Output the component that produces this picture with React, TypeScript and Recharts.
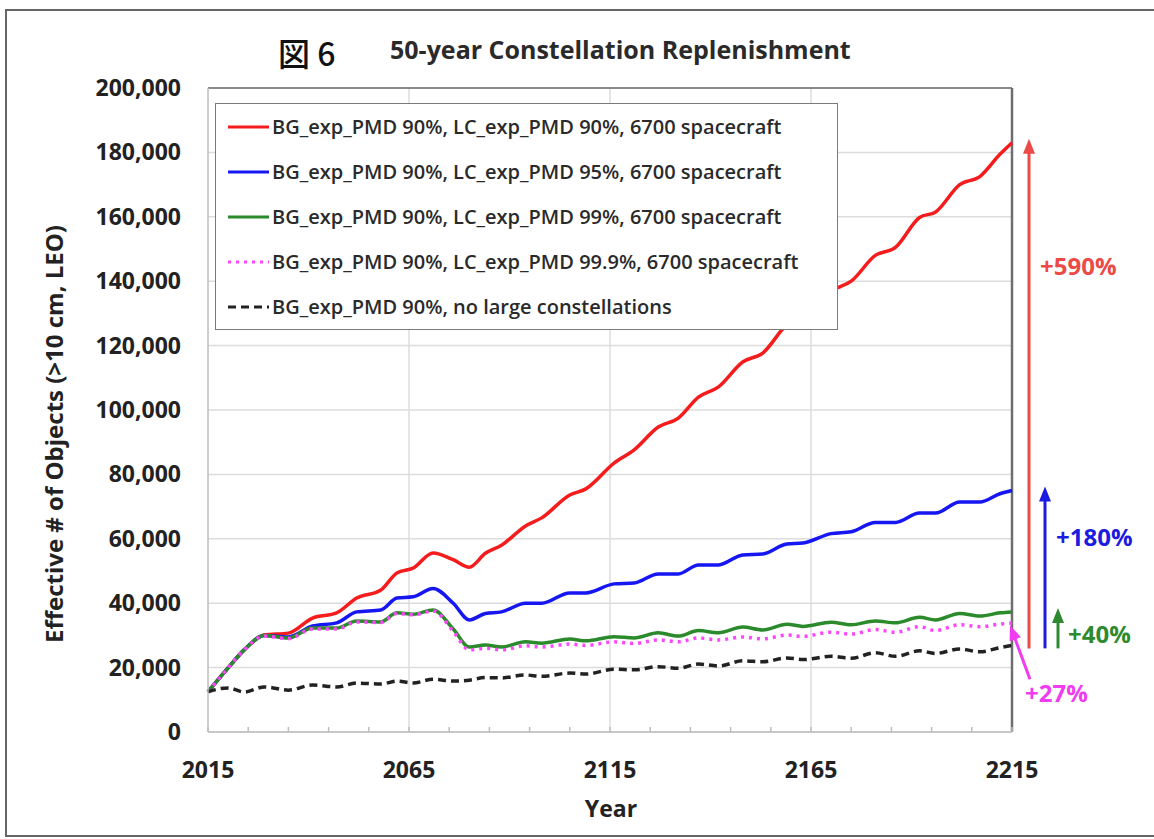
import { LineChart, Line, XAxis, YAxis, CartesianGrid, ReferenceLine } from "recharts";

// sample years (one point at each start / end of the solar-cycle plateaus)
const years = [
  2015, 2020, 2024, 2029, 2035, 2041, 2047, 2052, 2058, 2062,
  2066, 2071, 2076, 2080, 2084, 2088, 2094, 2098, 2105, 2109,
  2116, 2121, 2127, 2132, 2137, 2142, 2148, 2153, 2159, 2163,
  2170, 2175, 2181, 2186, 2192, 2196, 2202, 2207, 2212, 2215,
];

const lc90 = [
  12500, 19900, 25500, 30100, 30700, 35400, 37000, 41600, 44100, 49400,
  50900, 55600, 53500, 51200, 55500, 58000, 64000, 66500, 73600, 75500,
  83500, 87600, 94700, 97500, 104000, 107200, 114900, 117700, 126500, 129500,
  137000, 140000, 148000, 150500, 159800, 161500, 170000, 172500, 179400, 183000,
];
const lc95 = [
  12500, 19900, 25500, 30000, 29500, 32900, 33900, 37300, 37900, 41600,
  42000, 44600, 40000, 34800, 36800, 37300, 40000, 40000, 43200, 43200,
  46000, 46300, 49100, 49100, 51900, 51900, 55000, 55300, 58400, 58700,
  61600, 62200, 65100, 65100, 68000, 68000, 71400, 71400, 74000, 75000,
];
const lc99 = [
  12500, 19900, 25500, 30000, 29200, 32300, 32300, 34500, 34200, 37000,
  36600, 37900, 32000, 26400, 27000, 26400, 28000, 27600, 28900, 28300,
  29600, 29200, 30800, 29800, 31500, 30800, 32600, 31700, 33500, 32800,
  34100, 33300, 34500, 33900, 35600, 34800, 36800, 36000, 37000, 37300,
];
const lc999 = [
  12500, 19900, 25500, 29800, 29000, 32000, 32000, 34200, 34000, 36800,
  36400, 37600, 31300, 25500, 26000, 25500, 26800, 26400, 27300, 26900,
  28000, 27500, 28600, 28000, 29200, 28600, 29500, 28900, 30100, 29700,
  31000, 30400, 31800, 31000, 32700, 31500, 33300, 32700, 33500, 33800,
];
const noLc = [
  12500, 13700, 12400, 14000, 13000, 14600, 14000, 15200, 14900, 15800,
  15200, 16400, 15800, 16100, 16900, 16800, 17700, 17300, 18300, 18000,
  19500, 19300, 20300, 19800, 21100, 20500, 22100, 21800, 23000, 22500,
  23500, 22900, 24600, 23500, 25200, 24400, 25800, 24900, 26200, 26900,
];

const seriesKeys = ["lc90", "lc95", "lc99", "lc999", "noLc"];
const seriesNames = [
  "BG_exp_PMD 90%, LC_exp_PMD 90%, 6700 spacecraft",
  "BG_exp_PMD 90%, LC_exp_PMD 95%, 6700 spacecraft",
  "BG_exp_PMD 90%, LC_exp_PMD 99%, 6700 spacecraft",
  "BG_exp_PMD 90%, LC_exp_PMD 99.9%, 6700 spacecraft",
  "BG_exp_PMD 90%, no large constellations",
];
const seriesColors = ["#f41c1c", "#1616f2", "#2b8a2b", "#ff44ff", "#222222"];
const seriesDash = ["", "", "", "3 5", "8 5"];

const yTicks = [0, 20000, 40000, 60000, 80000, 100000, 120000, 140000, 160000, 180000, 200000];
const xTicks = [2015, 2025, 2035, 2045, 2055, 2065, 2075, 2085, 2095, 2105, 2115, 2125, 2135, 2145, 2155, 2165, 2175, 2185, 2195, 2205, 2215];
const xLabels = [2015, 2065, 2115, 2165, 2215];
const xGrid = [2065, 2115, 2165];

const increaseLabels = ["+590%", "+180%", "+40%", "+27%"];

const data = years.map((year, i) => ({
  year,
  lc90: lc90[i],
  lc95: lc95[i],
  lc99: lc99[i],
  lc999: lc999[i],
  noLc: noLc[i],
}));

const FONT = "'Open Sans', sans-serif";
const last = (a: number[]) => a[a.length - 1];

function XTick({ x, y, payload }: any) {
  const v = payload.value;
  return (
    <g>
      <line x1={x} y1={y} x2={x} y2={y - 5} stroke="#bdbdbd" strokeWidth={1.5} />
      {xLabels.includes(v) && (
        <text x={x} y={y + 46} textAnchor="middle" fontFamily={FONT} fontWeight={700} fontSize={23} fill="#222">
          {v}
        </text>
      )}
    </g>
  );
}

function YTick({ x, y, payload }: any) {
  return (
    <text x={x - 27} y={y + 8} textAnchor="end" fontFamily={FONT} fontWeight={700} fontSize={23} fill="#222">
      {payload.value.toLocaleString("en-US")}
    </text>
  );
}

// arrow from (ax,ay) to tip (bx,by)
function Arrow({ ax, ay, bx, by, color }: any) {
  const len = Math.hypot(bx - ax, by - ay);
  const ux = (bx - ax) / len;
  const uy = (by - ay) / len;
  const head = 15;
  const half = 6;
  const cx = bx - ux * head;
  const cy = by - uy * head;
  return (
    <g>
      <line x1={ax} y1={ay} x2={cx + ux * 2} y2={cy + uy * 2} stroke={color} strokeWidth={3} />
      <polygon
        points={`${bx},${by} ${cx - uy * half},${cy + ux * half} ${cx + uy * half},${cy - ux * half}`}
        fill={color}
      />
    </g>
  );
}

function UpArrow(props: any) {
  const { x1, y1, y2, dx, color, label, labelDx, labelDy } = props;
  const x = x1 + dx;
  return (
    <g>
      <Arrow ax={x} ay={y1 + 3} bx={x} by={y2 - 4} color={color} />
      <text x={x1 + labelDx} y={y2 + labelDy} fill={color} fontFamily={FONT} fontWeight={700} fontSize={24}>
        {label}
      </text>
    </g>
  );
}

function DiagArrow(props: any) {
  const { x1, y1, color, label } = props;
  return (
    <g>
      <Arrow ax={x1 + 18} ay={y1 + 56} bx={x1 - 2} by={y1 + 2} color={color} />
      <text x={x1 + 13} y={y1 + 79} fill={color} fontFamily={FONT} fontWeight={700} fontSize={24}>
        {label}
      </text>
    </g>
  );
}

function LegendBox() {
  return (
    <div
      style={{
        position: "absolute",
        left: 215,
        top: 103,
        width: 623,
        height: 227,
        border: "1.5px solid #7a7a7a",
        background: "#fff",
        boxSizing: "border-box",
      }}
    >
      {seriesNames.map((name, i) => (
        <div key={name} style={{ height: 45, display: "flex", alignItems: "center" }}>
          <svg width={56} height={10} style={{ flex: "none" }}>
            <line
              x1={12}
              y1={5}
              x2={53}
              y2={5}
              stroke={seriesColors[i]}
              strokeWidth={3}
              strokeDasharray={seriesDash[i] || undefined}
            />
          </svg>
          <span style={{ fontFamily: FONT, fontWeight: 600, fontSize: 20, color: "#2a2a2a", whiteSpace: "nowrap" }}>
            {name}
          </span>
        </div>
      ))}
    </div>
  );
}

export default function App() {
  const base = last(noLc);
  return (
    <div style={{ position: "absolute", left: 0, top: 0, width: 1154, height: 839, background: "#fff", overflow: "hidden" }}>
      <div
        style={{
          position: "absolute",
          left: 5,
          top: 9,
          width: 1160,
          height: 828,
          border: "2px solid #666",
          boxSizing: "border-box",
        }}
      />
      <div
        style={{
          position: "absolute",
          left: 278,
          top: 33,
          fontFamily: "'Noto Sans CJK JP', sans-serif",
          fontWeight: 500,
          fontSize: 32,
          lineHeight: "38px",
          color: "#111",
        }}
      >
        図 6
      </div>
      <div
        style={{
          position: "absolute",
          left: 390,
          top: 33,
          fontFamily: FONT,
          fontWeight: 700,
          fontSize: 25,
          lineHeight: "32px",
          color: "#2a2a2a",
        }}
      >
        50-year Constellation Replenishment
      </div>
      <div style={{ position: "absolute", left: 0, top: 0 }}>
        <LineChart width={1154} height={839} data={data} margin={{ top: 88, right: 142, bottom: 0, left: 0 }}>
          <CartesianGrid vertical={false} stroke="#dcdcdc" strokeWidth={1.5} />
          {xGrid.map((g) => (
            <ReferenceLine key={g} x={g} stroke="#dcdcdc" strokeWidth={1.5} />
          ))}
          <XAxis
            type="number"
            dataKey="year"
            domain={[2015, 2215]}
            ticks={xTicks}
            interval={0}
            height={107}
            tickSize={0}
            tickMargin={0}
            axisLine={{ stroke: "#bdbdbd", strokeWidth: 1.5 }}
            tickLine={false}
            tick={<XTick />}
          />
          <YAxis
            domain={[0, 200000]}
            ticks={yTicks}
            interval={0}
            width={208}
            tickSize={0}
            tickMargin={0}
            axisLine={{ stroke: "#bdbdbd", strokeWidth: 1.5 }}
            tickLine={false}
            tick={<YTick />}
          />
          <ReferenceLine y={200000} stroke="#8a8a8a" strokeWidth={2} />
          <ReferenceLine x={2215} stroke="#6e6e6e" strokeWidth={2.5} />
          {seriesKeys.map((k, i) => (
            <Line
              key={k}
              type="monotone"
              dataKey={k}
              name={seriesNames[i]}
              stroke={seriesColors[i]}
              strokeWidth={3.5}
              strokeDasharray={seriesDash[i] || undefined}
              dot={false}
              isAnimationActive={false}
            />
          ))}
          <ReferenceLine
            ifOverflow="visible"
            segment={[{ x: 2215, y: base }, { x: 2215, y: last(lc90) }]}
            shape={(p: any) => (
              <UpArrow {...p} dx={17} color="#eb4a46" label={increaseLabels[0]} labelDx={28} labelDy={132} />
            )}
          />
          <ReferenceLine
            ifOverflow="visible"
            segment={[{ x: 2215, y: base }, { x: 2215, y: last(lc95) }]}
            shape={(p: any) => (
              <UpArrow {...p} dx={33} color="#1c1ce0" label={increaseLabels[1]} labelDx={44} labelDy={55} />
            )}
          />
          <ReferenceLine
            ifOverflow="visible"
            segment={[{ x: 2215, y: base }, { x: 2215, y: last(lc99) }]}
            shape={(p: any) => (
              <UpArrow {...p} dx={46} color="#2e8a2e" label={increaseLabels[2]} labelDx={56} labelDy={31} />
            )}
          />
          <ReferenceLine
            ifOverflow="visible"
            segment={[{ x: 2215, y: last(lc999) }, { x: 2215, y: last(lc999) }]}
            shape={(p: any) => <DiagArrow {...p} color="#f03cf0" label={increaseLabels[3]} />}
          />
        </LineChart>
      </div>
      <LegendBox />
      <div
        style={{
          position: "absolute",
          left: 53,
          top: 434,
          transform: "translate(-50%, -50%) rotate(-90deg)",
          fontFamily: FONT,
          fontWeight: 700,
          fontSize: 24,
          color: "#222",
          whiteSpace: "nowrap",
        }}
      >
        Effective # of Objects (&gt;10 cm, LEO)
      </div>
      <div
        style={{
          position: "absolute",
          left: 611,
          top: 808,
          transform: "translate(-50%, -50%)",
          fontFamily: FONT,
          fontWeight: 700,
          fontSize: 23,
          color: "#222",
        }}
      >
        Year
      </div>
    </div>
  );
}
